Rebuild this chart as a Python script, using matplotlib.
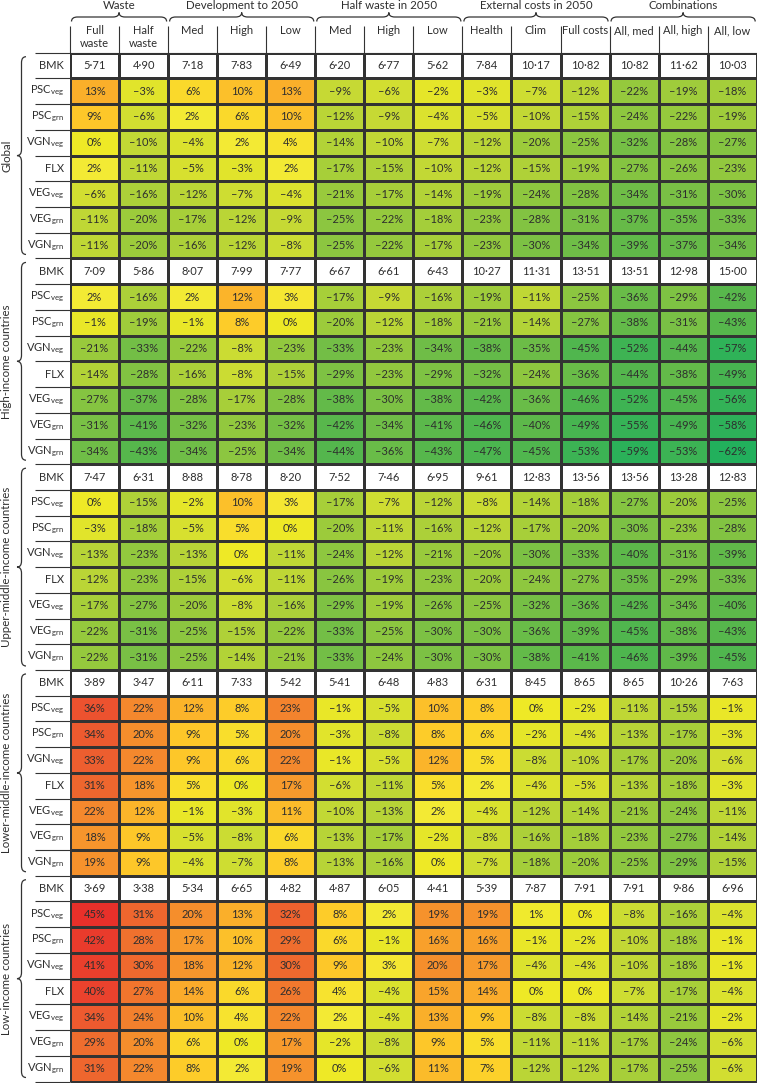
import numpy as np
import matplotlib
matplotlib.use("Agg")
import matplotlib.pyplot as plt
from matplotlib.colors import LinearSegmentedColormap
from matplotlib.path import Path
from matplotlib.patches import PathPatch

plt.rcParams['font.family'] = ['Lato', 'DejaVu Sans']

# ---------------- data ----------------
group_titles = ["Waste", "Development to 2050", "Half waste in 2050",
                "External costs in 2050", "Combinations"]
group_sizes = [2, 3, 3, 3, 3]
columns = ["Full\nwaste", "Half\nwaste", "Med", "High", "Low", "Med", "High", "Low",
           "Health", "Clim", "Full costs", "All, med", "All, high", "All, low"]
regions = ["Global", "High-income countries", "Upper-middle-income countries",
           "Lower-middle-income countries", "Low-income countries"]
row_labels = ["BMK", r"PSC$_\mathregular{veg}$", r"PSC$_\mathregular{grn}$",
              r"VGN$_\mathregular{veg}$", "FLX", r"VEG$_\mathregular{veg}$",
              r"VEG$_\mathregular{grn}$", r"VGN$_\mathregular{grn}$"]

global_bmk = [5.71, 4.90, 7.18, 7.83, 6.49, 6.20, 6.77, 5.62, 7.84, 10.17, 10.82, 10.82, 11.62, 10.03]
global_pct = [
    [13, -3, 6, 10, 13, -9, -6, -2, -3, -7, -12, -22, -19, -18],
    [9, -6, 2, 6, 10, -12, -9, -4, -5, -10, -15, -24, -22, -19],
    [0, -10, -4, 2, 4, -14, -10, -7, -12, -20, -25, -32, -28, -27],
    [2, -11, -5, -3, 2, -17, -15, -10, -12, -15, -19, -27, -26, -23],
    [-6, -16, -12, -7, -4, -21, -17, -14, -19, -24, -28, -34, -31, -30],
    [-11, -20, -17, -12, -9, -25, -22, -18, -23, -28, -31, -37, -35, -33],
    [-11, -20, -16, -12, -8, -25, -22, -17, -23, -30, -34, -39, -37, -34],
]
high_bmk = [7.09, 5.86, 8.07, 7.99, 7.77, 6.67, 6.61, 6.43, 10.27, 11.31, 13.51, 13.51, 12.98, 15.00]
high_pct = [
    [2, -16, 2, 12, 3, -17, -9, -16, -19, -11, -25, -36, -29, -42],
    [-1, -19, -1, 8, 0, -20, -12, -18, -21, -14, -27, -38, -31, -43],
    [-21, -33, -22, -8, -23, -33, -23, -34, -38, -35, -45, -52, -44, -57],
    [-14, -28, -16, -8, -15, -29, -23, -29, -32, -24, -36, -44, -38, -49],
    [-27, -37, -28, -17, -28, -38, -30, -38, -42, -36, -46, -52, -45, -56],
    [-31, -41, -32, -23, -32, -42, -34, -41, -46, -40, -49, -55, -49, -58],
    [-34, -43, -34, -25, -34, -44, -36, -43, -47, -45, -53, -59, -53, -62],
]
uppermid_bmk = [7.47, 6.31, 8.88, 8.78, 8.20, 7.52, 7.46, 6.95, 9.61, 12.83, 13.56, 13.56, 13.28, 12.83]
uppermid_pct = [
    [0, -15, -2, 10, 3, -17, -7, -12, -8, -14, -18, -27, -20, -25],
    [-3, -18, -5, 5, 0, -20, -11, -16, -12, -17, -20, -30, -23, -28],
    [-13, -23, -13, 0, -11, -24, -12, -21, -20, -30, -33, -40, -31, -39],
    [-12, -23, -15, -6, -11, -26, -19, -23, -20, -24, -27, -35, -29, -33],
    [-17, -27, -20, -8, -16, -29, -19, -26, -25, -32, -36, -42, -34, -40],
    [-22, -31, -25, -15, -22, -33, -25, -30, -30, -36, -39, -45, -38, -43],
    [-22, -31, -25, -14, -21, -33, -24, -30, -30, -38, -41, -46, -39, -45],
]
lowermid_bmk = [3.89, 3.47, 6.11, 7.33, 5.42, 5.41, 6.48, 4.83, 6.31, 8.45, 8.65, 8.65, 10.26, 7.63]
lowermid_pct = [
    [36, 22, 12, 8, 23, -1, -5, 10, 8, 0, -2, -11, -15, -1],
    [34, 20, 9, 5, 20, -3, -8, 8, 6, -2, -4, -13, -17, -3],
    [33, 22, 9, 6, 22, -1, -5, 12, 5, -8, -10, -17, -20, -6],
    [31, 18, 5, 0, 17, -6, -11, 5, 2, -4, -5, -13, -18, -3],
    [22, 12, -1, -3, 11, -10, -13, 2, -4, -12, -14, -21, -24, -11],
    [18, 9, -5, -8, 6, -13, -17, -2, -8, -16, -18, -23, -27, -14],
    [19, 9, -4, -7, 8, -13, -16, 0, -7, -18, -20, -25, -29, -15],
]
low_bmk = [3.69, 3.38, 5.34, 6.65, 4.82, 4.87, 6.05, 4.41, 5.39, 7.87, 7.91, 7.91, 9.86, 6.96]
low_pct = [
    [45, 31, 20, 13, 32, 8, 2, 19, 19, 1, 0, -8, -16, -4],
    [42, 28, 17, 10, 29, 6, -1, 16, 16, -1, -2, -10, -18, -1],
    [41, 30, 18, 12, 30, 9, 3, 20, 17, -4, -4, -10, -18, -1],
    [40, 27, 14, 6, 26, 4, -4, 15, 14, 0, 0, -7, -17, -4],
    [34, 24, 10, 4, 22, 2, -4, 13, 9, -8, -8, -14, -21, -2],
    [29, 20, 6, 0, 17, -2, -8, 9, 5, -11, -11, -17, -24, -6],
    [31, 22, 8, 2, 19, 0, -6, 11, 7, -12, -12, -17, -25, -6],
]
bmks = [global_bmk, high_bmk, uppermid_bmk, lowermid_bmk, low_bmk]
pcts = [global_pct, high_pct, uppermid_pct, lowermid_pct, low_pct]

# ---------------- style ----------------
VMIN, VMAX = -62, 45
nodes = [(-62, "#22b05c"), (-50, "#45b451"), (-40, "#5db84a"), (-30, "#7cc144"),
         (-20, "#9ccb3b"), (-10, "#c2d835"), (-4, "#dbe22e"), (0, "#eee925"),
         (2, "#f3eb35"), (5, "#f9df2c"), (8, "#fdcc29"), (12, "#fbb52a"),
         (18, "#f7962c"), (24, "#f2802d"), (30, "#ef6a2e"), (36, "#ec532f"),
         (45, "#e8302a")]
cmap = LinearSegmentedColormap.from_list(
    "waste", [((v - VMIN) / (VMAX - VMIN), c) for v, c in nodes])
cmap.set_bad("white")
LINE = "#333333"
TXT = "#2e2e2e"
FS = 8.0

W, H = 757, 1083
LEFT, RIGHT, TOP, BOTTOM = 70.0, 756.7, 52.7, 1081.5
LABEL_W = 35.0
ncol = len(columns)
nrow = len(bmks) * len(row_labels)
COLW = (RIGHT - LEFT) / ncol
ROWH = (BOTTOM - TOP) / nrow

fig = plt.figure(figsize=(W / 100, H / 100), dpi=100)
ov = fig.add_axes([0, 0, 1, 1])
ov.set_xlim(0, W)
ov.set_ylim(H, 0)
ov.axis("off")

ax = fig.add_axes([LEFT / W, 1 - BOTTOM / H, (RIGHT - LEFT) / W, (BOTTOM - TOP) / H])

vals = np.full((nrow, ncol), np.nan)
labels = [[""] * ncol for _ in range(nrow)]
for g, (bmk, pct) in enumerate(zip(bmks, pcts)):
    r0 = g * len(row_labels)
    for j, v in enumerate(bmk):
        labels[r0][j] = f"{v:.2f}".replace(".", "·")
    for i, row in enumerate(pct):
        for j, v in enumerate(row):
            vals[r0 + 1 + i, j] = v
            labels[r0 + 1 + i][j] = f"{v}%".replace("-", "–")

ax.pcolormesh(np.arange(ncol + 1), np.arange(nrow + 1), np.ma.masked_invalid(vals),
              cmap=cmap, vmin=VMIN, vmax=VMAX, edgecolors=LINE, linewidth=0.8)
ax.set_xlim(0, ncol)
ax.set_ylim(nrow, 0)
ax.axis("off")

for i in range(nrow):
    for j in range(ncol):
        ax.text(j + 0.5, i + 0.5, labels[i][j], ha="center", va="center",
                fontsize=FS, color=TXT)
    ax.text(-0.12, i + 0.5, row_labels[i % len(row_labels)], ha="right", va="center",
            fontsize=FS, color=TXT)

# lines in the row-label column
ax.hlines(np.arange(nrow + 1), -LABEL_W / COLW, 0, color=LINE, lw=0.8, clip_on=False)
ax.hlines([0, nrow], 0, ncol, color=LINE, lw=0.8, clip_on=False)

# column headers
hdr_top = (26 - TOP) / ROWH
ax.vlines(np.arange(ncol), hdr_top, 0, color=LINE, lw=0.8, clip_on=False)
for j, c in enumerate(columns):
    ax.text(j + 0.5, (25 - TOP) / ROWH, c, ha="center", va="top", fontsize=FS,
            color=TXT, linespacing=1.25)


def hbrace(x0, x1, yb, yh, yt, r=6):
    xm = (x0 + x1) / 2
    verts = [(x0, yb), (x0, yh), (x0 + r, yh), (xm - r, yh), (xm, yh), (xm, yt),
             (xm, yh), (xm + r, yh), (x1 - r, yh), (x1, yh), (x1, yb)]
    codes = [Path.MOVETO, Path.CURVE3, Path.CURVE3, Path.LINETO, Path.CURVE3, Path.CURVE3,
             Path.CURVE3, Path.CURVE3, Path.LINETO, Path.CURVE3, Path.CURVE3]
    ov.add_patch(PathPatch(Path(verts, codes), fill=False, ec=LINE, lw=0.9))


def vbrace(y0, y1, xb, xh, xt, r=6):
    ym = (y0 + y1) / 2
    verts = [(xb, y0), (xh, y0), (xh, y0 + r), (xh, ym - r), (xh, ym), (xt, ym),
             (xh, ym), (xh, ym + r), (xh, y1 - r), (xh, y1), (xb, y1)]
    codes = [Path.MOVETO, Path.CURVE3, Path.CURVE3, Path.LINETO, Path.CURVE3, Path.CURVE3,
             Path.CURVE3, Path.CURVE3, Path.LINETO, Path.CURVE3, Path.CURVE3]
    ov.add_patch(PathPatch(Path(verts, codes), fill=False, ec=LINE, lw=0.9))


c0 = 0
for title, n in zip(group_titles, group_sizes):
    x0 = LEFT + COLW * c0 + 1.5
    x1 = LEFT + COLW * (c0 + n) - 1.5
    hbrace(x0, x1, 21.5, 17, 12.5)
    ov.text((x0 + x1) / 2, 5.5, title, ha="center", va="center", fontsize=FS + 0.3, color=TXT)
    c0 += n

for g, name in enumerate(regions):
    y0 = TOP + ROWH * g * len(row_labels) + 4
    y1 = TOP + ROWH * (g + 1) * len(row_labels) - 4
    vbrace(y0, y1, 26, 21.5, 17)
    ov.text(7, (y0 + y1) / 2, name, rotation=90, ha="center", va="center",
            fontsize=FS + 0.3, color=TXT)

fig.savefig("out.png", dpi=100)
